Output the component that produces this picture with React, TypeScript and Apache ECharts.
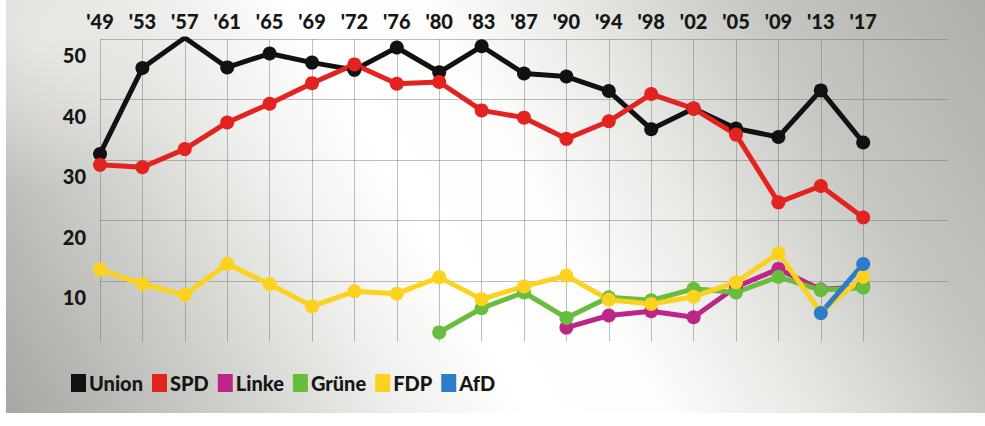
import React, { useEffect, useRef } from "react";
import * as echarts from "echarts";

const elections = ["'49", "'53", "'57", "'61", "'65", "'69", "'72", "'76", "'80", "'83", "'87", "'90", "'94", "'98", "'02", "'05", "'09", "'13", "'17"];
const union = [31.0, 45.2, 50.2, 45.3, 47.6, 46.1, 44.9, 48.6, 44.5, 48.8, 44.3, 43.8, 41.4, 35.1, 38.5, 35.2, 33.8, 41.5, 32.9];
const spd = [29.2, 28.8, 31.8, 36.2, 39.3, 42.7, 45.8, 42.6, 42.9, 38.2, 37.0, 33.5, 36.4, 40.9, 38.5, 34.2, 23.0, 25.7, 20.5];
const linke = [null, null, null, null, null, null, null, null, null, null, null, 2.3, 4.3, 5.0, 4.0, 9.0, 12.0, 8.6, 9.1];
const gruene = [null, null, null, null, null, null, null, null, 1.5, 5.5, 8.1, 3.9, 7.3, 6.8, 8.7, 8.1, 10.7, 8.5, 8.9];
const fdp = [11.9, 9.5, 7.7, 12.8, 9.5, 5.8, 8.3, 7.9, 10.6, 7.0, 9.1, 10.9, 6.9, 6.2, 7.4, 9.8, 14.6, 4.8, 10.7];
const afd = [null, null, null, null, null, null, null, null, null, null, null, null, null, null, null, null, null, 4.7, 12.8];
const yTicks = [10, 20, 30, 40, 50];

const seriesDefs = [
  { name: "Union", data: union, color: "#111111" },
  { name: "SPD", data: spd, color: "#e3231f" },
  { name: "Linke", data: linke, color: "#bd2586" },
  { name: "Grüne", data: gruene, color: "#69bd3c" },
  { name: "FDP", data: fdp, color: "#fdd21f" },
  { name: "AfD", data: afd, color: "#2d7ccb" },
];

const FONT = "Lato, 'Noto Sans', sans-serif";

export default function App() {
  const ref = useRef<HTMLDivElement>(null);
  useEffect(() => {
    if (!ref.current) return;
    const chart = echarts.init(ref.current, null, { renderer: "svg" });
    const axisCats = [...elections, "", ""];
    chart.setOption({
      animation: false,
      backgroundColor: "transparent",
      grid: { left: 100, right: 37, top: 39, bottom: 84.5 },
      legend: {
        left: 66,
        top: 368,
        icon: "rect",
        itemWidth: 15,
        itemHeight: 18,
        itemGap: 9,
        textStyle: { fontFamily: FONT, fontWeight: 900, fontSize: 20, color: "#161616", padding: [0, 0, 0, -2] },
        data: seriesDefs.map((s) => s.name),
      },
      xAxis: {
        type: "category",
        position: "top",
        boundaryGap: false,
        data: axisCats,
        axisLine: { show: false },
        axisTick: { show: false },
        axisLabel: {
          interval: 0,
          margin: 8,
          fontFamily: FONT,
          fontWeight: 900,
          fontSize: 20,
          color: "#161616",
        },
        splitLine: {
          show: true,
          interval: (i: number, v: string) => v !== "",
          lineStyle: { color: "rgba(110,110,110,0.45)", width: 1 },
        },
      },
      yAxis: {
        type: "value",
        min: 0,
        max: 50,
        interval: 10,
        axisLine: { show: false },
        axisTick: { show: false },
        axisLabel: {
          margin: 14,
          verticalAlign: "top",
          padding: [6, 0, 0, 0],
          fontFamily: FONT,
          fontWeight: 900,
          fontSize: 20,
          color: "#161616",
          formatter: (v: number) => (yTicks.includes(v) ? String(v) : ""),
        },
        splitLine: {
          show: true,
          showMinLine: false,
          lineStyle: { color: "rgba(110,110,110,0.45)", width: 1 },
        },
      },
      series: seriesDefs.map((s) => ({
        name: s.name,
        type: "line",
        data: s.data,
        connectNulls: false,
        symbol: "circle",
        symbolSize: 14,
        itemStyle: { color: s.color },
        lineStyle: { color: s.color, width: 5 },
      })),
    });
    return () => chart.dispose();
  }, []);
  return (
    <div
      style={{
        position: "fixed",
        left: 0,
        top: 0,
        width: 985,
        height: 426,
        background: "#ffffff",
      }}
    >
      <div
        style={{
          position: "absolute",
          left: 6,
          top: 0,
          width: 979,
          height: 413,
          background:
            "radial-gradient(ellipse 200px 160px at 40px 30px, rgba(238,238,235,0.75) 0%, rgba(238,238,235,0) 100%), linear-gradient(60deg, #a6a7a2 0%, #b9bab5 9%, #d4d4d0 21%, #f0f0ee 33%, #ffffff 43%, #fdfdfc 54%, #e8e8e5 66%, #c6c7c2 81%, #aeafaa 100%)",
        }}
      />
      <div ref={ref} style={{ position: "absolute", left: 0, top: 0, width: 985, height: 426 }} />
    </div>
  );
}
